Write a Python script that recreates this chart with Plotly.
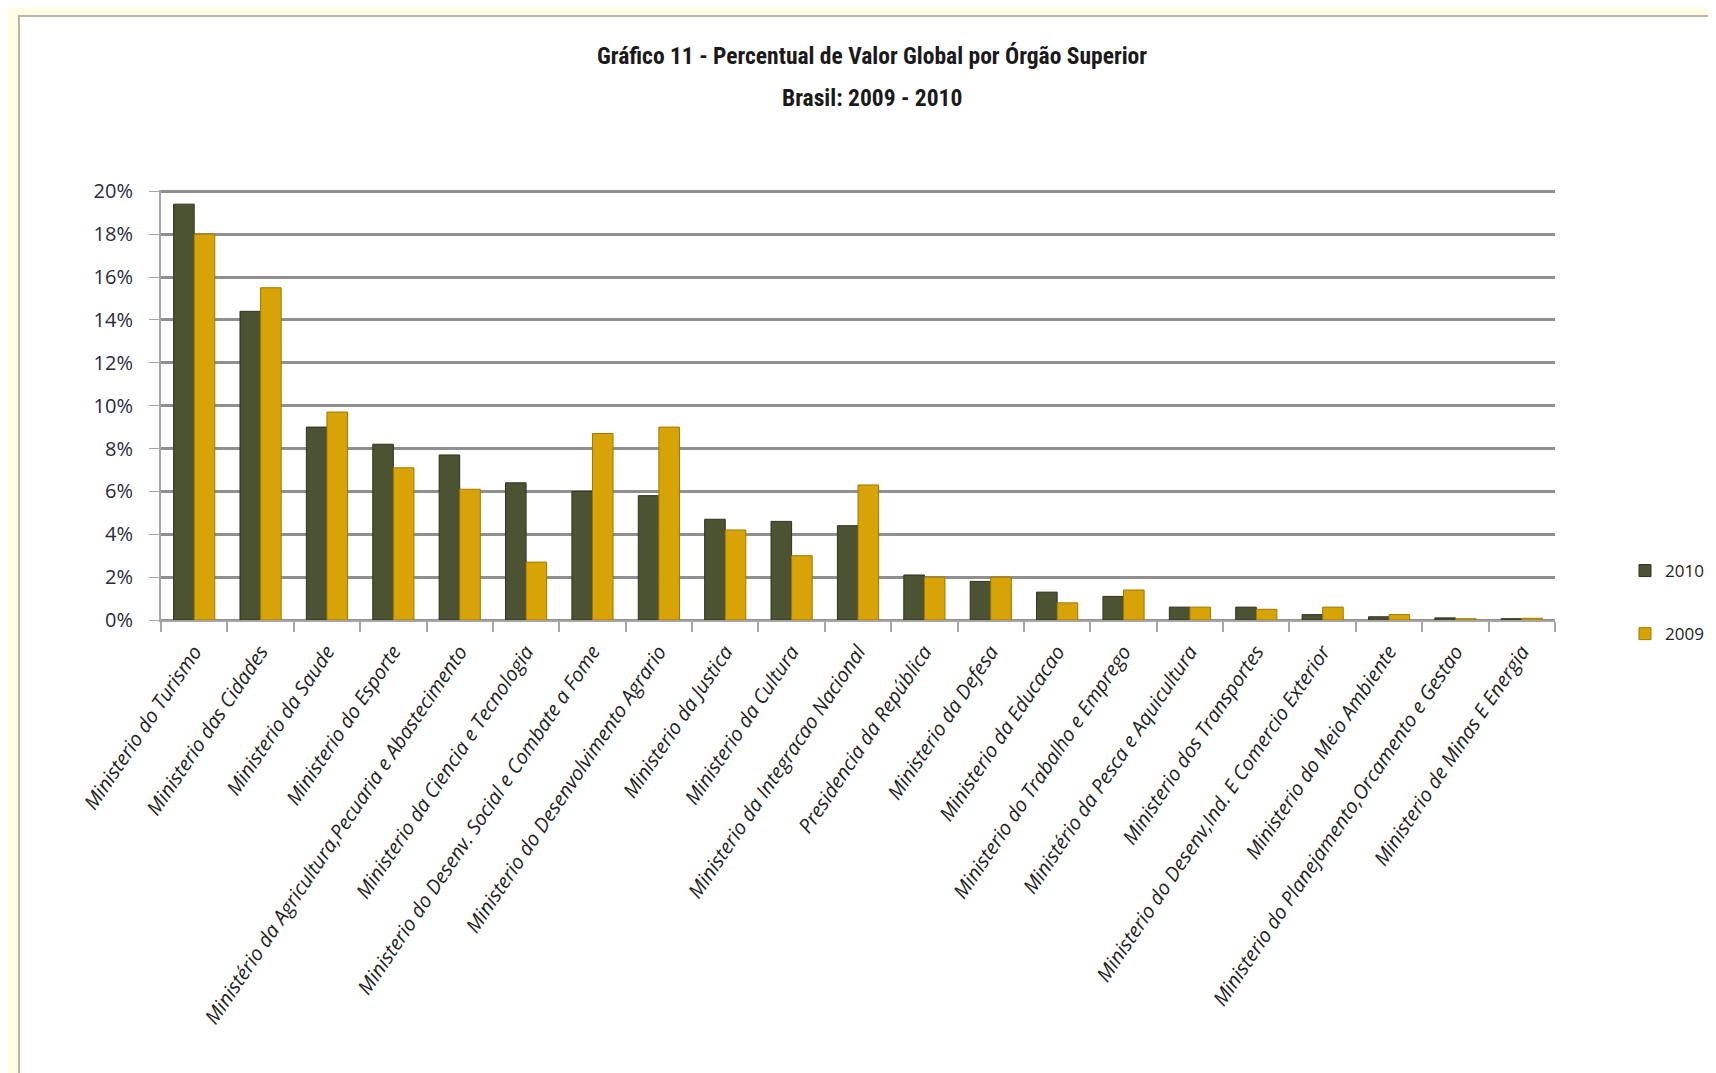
import plotly.graph_objects as go

categories = [
    "Ministerio do Turismo",
    "Ministerio das Cidades",
    "Ministerio da Saude",
    "Ministerio do Esporte",
    "Ministério da Agricultura,Pecuaria e Abastecimento",
    "Ministerio da Ciencia e Tecnologia",
    "Ministerio do Desenv. Social e Combate a Fome",
    "Ministerio do Desenvolvimento Agrario",
    "Ministerio da Justica",
    "Ministerio da Cultura",
    "Ministerio da Integracao Nacional",
    "Presidencia da República",
    "Ministerio da Defesa",
    "Ministerio da Educacao",
    "Ministerio do Trabalho e Emprego",
    "Ministério da Pesca e Aquicultura",
    "Ministerio dos Transportes",
    "Ministerio do Desenv,Ind. E Comercio Exterior",
    "Ministerio do Meio Ambiente",
    "Ministerio do Planejamento,Orcamento e Gestao",
    "Ministerio de Minas E Energia",
]

values_2010 = [0.194, 0.144, 0.090, 0.082, 0.077, 0.064, 0.060, 0.058, 0.047,
               0.046, 0.044, 0.021, 0.018, 0.013, 0.011, 0.006, 0.006, 0.0025,
               0.0015, 0.001, 0.0006]
values_2009 = [0.180, 0.155, 0.097, 0.071, 0.061, 0.027, 0.087, 0.090, 0.042,
               0.030, 0.063, 0.020, 0.020, 0.008, 0.014, 0.006, 0.005, 0.006,
               0.0025, 0.0006, 0.0008]

series_names = ["2010", "2009"]
y_ticks = [0, 0.02, 0.04, 0.06, 0.08, 0.10, 0.12, 0.14, 0.16, 0.18, 0.20]
y_tick_labels = ["0%", "2%", "4%", "6%", "8%", "10%", "12%", "14%", "16%", "18%", "20%"]

title_line1 = "Gráfico 11 - Percentual de Valor Global por Órgão Superior"
title_line2 = "Brasil: 2009 - 2010"

W, H = 1716, 1073
L, R = 153, 1547
T, B = 182, 612

def px_to_paper_x(px):
    return (px - L) / (R - L)

def px_to_paper_y(py):
    return (B - py) / (B - T)

fig = go.Figure()
fig.add_trace(go.Bar(
    x=categories, y=values_2010, name=series_names[0], legendgroup="a",
    marker=dict(color="#4b5333", line=dict(color="#2e331f", width=1)),
))
fig.add_trace(go.Bar(
    x=categories, y=values_2009, name=series_names[1], legendgroup="b",
    marker=dict(color="#d8a307", line=dict(color="#a07800", width=1)),
))

# frame (light-yellow border at top/left)
fig.add_shape(type="rect", xref="paper", yref="paper",
              x0=px_to_paper_x(11), x1=px_to_paper_x(W + 5),
              y0=px_to_paper_y(H + 5), y1=px_to_paper_y(8),
              fillcolor="white", line=dict(color="#b8b8a8", width=2), layer="below")

font_title = "Roboto Condensed, Liberation Sans Narrow, Roboto, sans-serif"
fig.add_annotation(text="<b>" + title_line1 + "</b>", xref="paper", yref="paper",
                   x=px_to_paper_x(864), y=px_to_paper_y(48), showarrow=False,
                   font=dict(family=font_title, size=23.5, color="#1a1a1a"),
                   xanchor="center", yanchor="middle")
fig.add_annotation(text="<b>" + title_line2 + "</b>", xref="paper", yref="paper",
                   x=px_to_paper_x(864), y=px_to_paper_y(90), showarrow=False,
                   font=dict(family=font_title, size=23.5, color="#1a1a1a"),
                   xanchor="center", yanchor="middle")

fig.update_layout(
    width=W, height=H,
    margin=dict(l=L, r=W - R, t=T, b=H - B, autoexpand=False),
    paper_bgcolor="#fffde4",
    plot_bgcolor="white",
    barmode="group",
    bargap=0.38,
    bargroupgap=0.0,
    showlegend=True,
    legend=dict(x=px_to_paper_x(1617), y=px_to_paper_y(545), xanchor="left", yanchor="top",
                font=dict(family="Open Sans, sans-serif", size=17, color="#222"),
                tracegroupgap=38, itemwidth=30, bgcolor="rgba(0,0,0,0)"),
    xaxis=dict(
        type="category",
        tickangle=-56,
        tickfont=dict(family="Open Sans, sans-serif", size=20, color="#222", style="italic"),
        showline=True, linecolor="#a6a6a6", linewidth=2,
        ticks="outside", tickson="boundaries", ticklen=10, tickcolor="#a6a6a6", tickwidth=1.5,
        showgrid=False,
        ticklabelstandoff=10,
    ),
    yaxis=dict(
        range=[0, 0.2006],
        tickvals=y_ticks, ticktext=y_tick_labels,
        tickfont=dict(family="Open Sans, sans-serif", size=20, color="#2b2b3a"),
        showgrid=True, gridcolor="#8f8f8f", gridwidth=2.5,
        zeroline=True, zerolinecolor="#8f8f8f", zerolinewidth=2.5,
        showline=True, linecolor="#a6a6a6", linewidth=2,
        ticks="outside", ticklen=10, tickcolor="#a6a6a6",
        ticklabelstandoff=12,
    ),
)

fig.write_html("out.html")
